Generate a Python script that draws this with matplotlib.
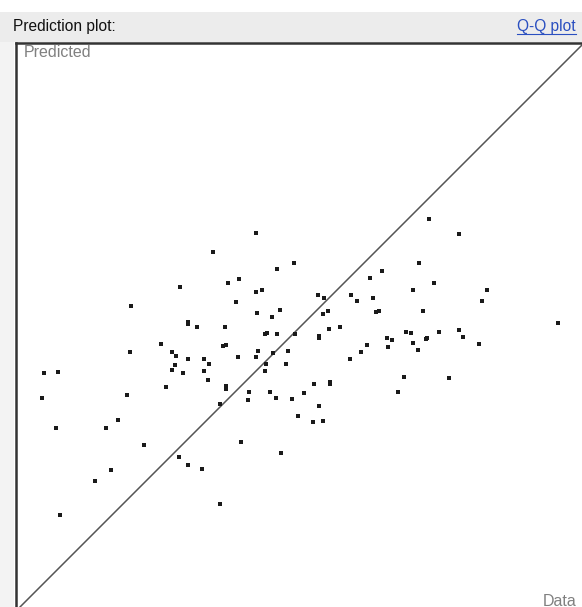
import matplotlib
matplotlib.use('Agg')
import matplotlib.pyplot as plt
from matplotlib.patches import Rectangle
from matplotlib.lines import Line2D

# observed values (x) and predicted values (y)
data = [28.6, 19.8, 30.0, 30.0, 31.6, 42.1, 34.5, 48.9, 45.9, 37.1,
        39.1, 42.1, 43.2, 38.6, 53.2, 54.3, 59.1, 60.2, 64.6, 62.5,
        63.0, 42.3, 46.4, 45.0, 54.1, 55.0, 63.6, 64.1, 36.6, 43.8,
        44.1, 45.9, 49.1, 53.4, 53.4, 55.2, 57.1, 65.5, 73.0, 78.4,
        71.3, 73.9, 70.2, 83.4, 82.5, 72.0, 96.1, 68.9, 69.8, 74.8,
        78.4, 79.1, 72.7, 25.2, 19.6, 27.1, 27.9, 30.0, 27.7, 27.1,
        29.1, 4.3, 6.8, 26.1, 3.9, 19.1, 17.5, 15.4, 6.4, 22.1,
        28.4, 30.0, 32.5, 16.3, 13.4, 7.1, 36.3, 36.8, 32.9, 33.8,
        32.9, 33.6, 38.9, 42.5, 42.1, 45.2, 47.9, 43.9, 47.5, 43.8,
        36.8, 36.8, 40.9, 44.6, 40.7, 45.7, 35.7, 48.6, 50.7, 52.5,
        55.4, 55.4, 53.4, 49.6, 52.3, 54.1, 39.5, 46.6, 35.7, 58.9,
        60.9, 62.0, 65.7, 66.4, 70.2, 72.5, 71.1, 82.0, 68.6, 76.6,
        67.5]
predicted = [57.1, 53.8, 50.9, 50.5, 50.0, 66.8, 63.4, 61.4, 60.4, 57.9,
             58.6, 56.3, 56.6, 54.5, 55.7, 55.2, 55.7, 54.6, 60.0, 58.8,
             55.2, 52.5, 53.0, 51.8, 52.3, 52.9, 52.7, 52.9, 50.0, 48.8,
             48.9, 48.8, 48.8, 48.4, 48.0, 49.6, 50.0, 48.0, 69.3, 66.6,
             61.4, 57.9, 56.6, 56.6, 54.6, 52.9, 50.7, 49.1, 48.9, 49.1,
             49.5, 48.2, 48.0, 47.0, 45.5, 45.5, 44.8, 44.3, 43.2, 42.3,
             41.8, 41.8, 42.0, 39.3, 37.3, 37.9, 33.4, 32.0, 32.0, 28.9,
             26.8, 25.4, 24.6, 24.5, 22.5, 16.4, 46.6, 46.8, 44.3, 43.4,
             42.1, 40.5, 44.6, 45.7, 44.6, 45.4, 45.7, 43.4, 43.4, 42.1,
             39.5, 38.9, 38.4, 38.4, 37.0, 37.3, 36.3, 37.1, 38.2, 39.8,
             40.2, 39.8, 35.9, 34.1, 33.0, 33.2, 29.5, 27.5, 18.4, 44.3,
             45.5, 46.8, 46.4, 47.7, 47.1, 47.9, 45.9, 47.0, 41.1, 40.9,
             38.4]

W, H = 582, 607
fig = plt.figure(figsize=(W / 100, H / 100), dpi=100)
fig.patch.set_facecolor('white')


def fx(px):
    return px / W


def fy(py):
    return 1 - py / H


# header band and left strip
fig.add_artist(Rectangle((0, fy(42)), 1, (42 - 12) / H, transform=fig.transFigure,
                         facecolor='#ececec', edgecolor='none', zorder=0))
fig.add_artist(Rectangle((0, 0), fx(14), fy(42), transform=fig.transFigure,
                         facecolor='#f3f3f3', edgecolor='none', zorder=0))

# axes box runs past the right and bottom edges of the picture
ax = fig.add_axes([fx(15.5), fy(617), (592 - 15.5) / W, (617 - 43) / H])
ax.set_xlim((15.5 - 20) / 5.6, (592 - 20) / 5.6)
ax.set_ylim((607 - 617) / 5.6, (607 - 43) / 5.6)
ax.set_xticks([])
ax.set_yticks([])
for s in ax.spines.values():
    s.set_color('#333333')
    s.set_linewidth(1.8)

ax.plot([-10, 120], [-10, 120], color='#555555', lw=1.1, zorder=2)
ax.plot(data, predicted, 's', color='#1a1a1a', markersize=2.3,
        markeredgewidth=0, zorder=3)

fnt = ['Liberation Sans', 'DejaVu Sans']
fig.text(fx(13), fy(26), 'Prediction plot:', fontsize=11.2, family=fnt,
         color='#111111', va='center', ha='left')
qq = fig.text(fx(576), fy(26), 'Q-Q plot', fontsize=11.2, family=fnt,
              color='#2a4fc0', va='center', ha='right')
fig.text(fx(24), fy(52.5), 'Predicted', fontsize=11.5, family=fnt,
         color='#808080', va='center', ha='left')
fig.text(fx(576), fy(601), 'Data', fontsize=11.5, family=fnt,
         color='#808080', va='center', ha='right')

# underline the link text
fig.canvas.draw()
bb = qq.get_window_extent()
fig.add_artist(Line2D([bb.x0 / W, bb.x1 / W], [fy(34), fy(34)],
                      transform=fig.transFigure, color='#2a4fc0', lw=0.8))

fig.savefig('out.png', dpi=100)
